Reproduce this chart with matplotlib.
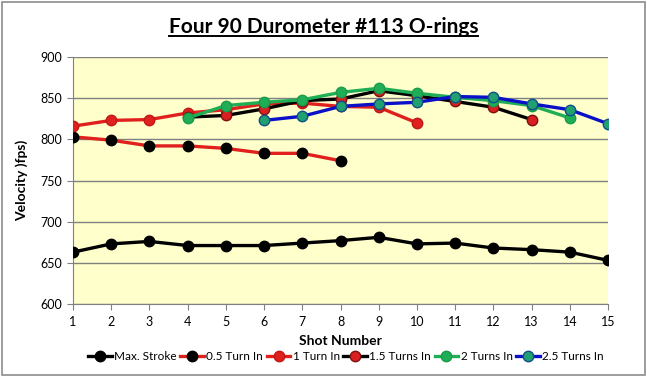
import numpy as np
import matplotlib
matplotlib.use("Agg")
import matplotlib.pyplot as plt
from matplotlib.lines import Line2D
from matplotlib.patches import Rectangle

plt.rcParams["font.family"] = ["Lato", "DejaVu Sans"]

# data
shots = list(range(1, 16))
max_stroke = [663, 673, 676, 671, 671, 671, 674, 677, 681, 673, 674, 668, 666, 663, 653]
half_turn = [803, 799, 792, 792, 789, 783, 783, 774]
one_turn = [816, 823, 824, 832, 836, 843, 844, 840, 839, 820]
one_half_turns = [827, 829, 837, 847, 849, 859, 853, 846, 839, 824]
two_turns = [826, 841, 845, 848, 857, 862, 856, 851, 847, 841, 826]
two_half_turns = [823, 828, 840, 843, 845, 852, 851, 843, 836, 819]

series = [
    ("Max. Stroke", 1, max_stroke, "black", "black", "black"),
    ("0.5 Turn In", 1, half_turn, "#e0201c", "black", "black"),
    ("1 Turn In", 1, one_turn, "#e0201c", "#e0201c", "#c01818"),
    ("1.5 Turns In", 4, one_half_turns, "black", "#d82020", "#801010"),
    ("2 Turns In", 4, two_turns, "#1fae55", "#1fae55", "#1a9a4a"),
    ("2.5 Turns In", 6, two_half_turns, "#0a10c8", "#20a070", "#10508a"),
]

fig = plt.figure(figsize=(6.47, 3.77), dpi=100)
ax = fig.add_axes([73 / 647, 1 - 304 / 377, 535 / 647, 247 / 377])
ax.set_facecolor("#ffffcc")

for label, start, vals, lc, mfc, mec in series:
    x = np.arange(start, start + len(vals))
    ax.plot(x, vals, "-o", color=lc, lw=2.4, ms=7.5, mfc=mfc, mec=mec,
            mew=1.0, label=label, zorder=3)

ax.set_xlim(1, 15)
ax.set_ylim(600, 900)
ax.set_xticks(shots)
ax.set_yticks(np.arange(600, 901, 50))
ax.yaxis.grid(True, color="#808080", lw=1.0)
ax.set_axisbelow(True)
for s in ["top", "right"]:
    ax.spines[s].set_visible(False)
for s in ["left", "bottom"]:
    ax.spines[s].set_color("#808080")
ax.tick_params(axis="both", direction="out", length=4, color="#808080",
               labelsize=9)
ax.tick_params(axis="x", pad=5)

ax.set_xlabel("Shot Number", fontsize=10, fontweight="bold", labelpad=5)
ax.set_ylabel("Velocity )fps)", fontsize=10, fontweight="bold", labelpad=9)

title = fig.text(0.5, 1 - 27 / 377, "Four 90 Durometer #113 O-rings",
                 ha="center", va="center", fontsize=15, fontweight="bold")

fig.legend(loc="center", bbox_to_anchor=(346 / 647, 1 - 357 / 377), ncol=6,
           frameon=False, fontsize=8.5, handlelength=2.0, handletextpad=0.2,
           columnspacing=0.3, borderaxespad=0)

# border around the chart
fig.add_artist(Rectangle((0.003, 0.004), 0.994, 0.992, transform=fig.transFigure,
                         fill=False, ec="#8c8c8c", lw=1.2))

# underline the title
fig.canvas.draw()
bb = title.get_window_extent().transformed(fig.transFigure.inverted())
fig.add_artist(Line2D([bb.x0, bb.x1], [bb.y0 + 0.002, bb.y0 + 0.002],
                      transform=fig.transFigure, color="black", lw=1.4))

fig.savefig("out.png", dpi=100)
